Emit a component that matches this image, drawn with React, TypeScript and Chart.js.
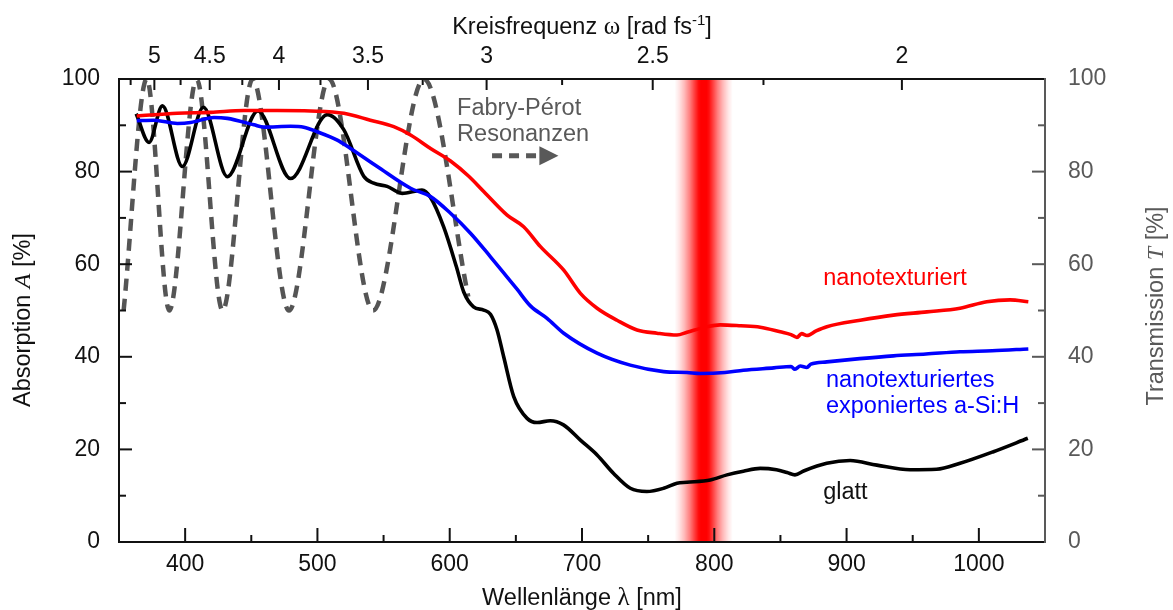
import { useEffect, useRef } from "react";
import { Chart, registerables } from "chart.js";

Chart.register(...registerables);

const W = 1173;
const H = 610;
const SANS = "'Liberation Sans', Arial, Helvetica, sans-serif";
const SERIF = "'Liberation Serif', 'Times New Roman', serif";

// smooth a-Si:H ("glatt"): wavelength [nm] / absorption [%]
const glattWl = [363, 372.7, 382.8, 397.9, 413.8, 431.9, 455, 479.7, 507.5, 520, 535, 542.6, 552.7, 564, 579, 585.5, 595.5, 605, 610.6, 618, 625.7, 630.8, 635.8, 640.8, 648.4, 658.5, 666, 676, 686, 698.8, 711.4, 723.9, 736.5, 749, 761.7, 771.8, 779.4, 797, 809.6, 822, 834.7, 847, 855, 861, 868, 885, 902.7, 922.9, 948, 968, 985.8, 1011, 1037];
const glattAbs = [92.5, 86.3, 94.2, 81.1, 93.9, 78.9, 93.1, 78.5, 92.3, 89.0, 79.0, 77.5, 76.8, 75.3, 76.0, 74.4, 68.0, 59.5, 54.0, 50.8, 50.1, 49.2, 45.8, 40.0, 31.4, 26.7, 25.8, 26.2, 25.3, 22.0, 18.8, 14.8, 11.6, 10.9, 11.6, 12.7, 12.9, 13.4, 14.5, 15.3, 15.9, 15.6, 15.0, 14.5, 15.4, 17.0, 17.6, 16.6, 15.6, 15.7, 17.0, 19.5, 22.4];

// nanotexturiert
const nanoWl = [363.4, 394, 419.3, 444.4, 469.6, 494.8, 520, 540, 557.7, 570.4, 585.5, 600.6, 614.4, 625.7, 643.4, 655.9, 668.6, 686.2, 698.8, 711.4, 726.5, 741.6, 756.7, 771.8, 779.4, 794.5, 804.5, 820, 834.7, 849.9, 858, 862.5, 866, 870, 877, 885.1, 910.3, 935.4, 960.7, 985.8, 1006, 1023.6, 1037.4];
const nanoAbs = [92.0, 92.6, 92.8, 93.2, 93.2, 93.1, 92.6, 91.1, 89.7, 87.9, 85.0, 82.3, 79.0, 75.7, 70.6, 68.1, 63.8, 58.7, 53.7, 50.5, 47.9, 45.8, 45.1, 44.7, 45.3, 46.5, 46.9, 46.7, 46.4, 45.4, 44.8, 44.2, 45.0, 44.6, 45.6, 46.5, 47.9, 49.0, 49.7, 50.5, 51.9, 52.3, 51.9];

// nanotexturiertes exponiertes a-Si:H
const expWl = [363.4, 376.4, 394.1, 404.2, 421.8, 431.9, 452, 459.5, 479.7, 489.7, 499.9, 515, 525, 545.2, 570.4, 585.5, 600.6, 615.7, 630.8, 650.9, 661, 673.6, 686.2, 711.4, 736.5, 761.7, 779.4, 789.4, 808, 822, 845, 858, 861, 865, 870, 873, 885.1, 910, 935.4, 960, 985.8, 1010, 1037.4];
const expAbs = [91.0, 91.1, 90.4, 90.6, 91.7, 91.5, 90.1, 89.6, 89.8, 89.6, 88.6, 86.8, 85.0, 81.1, 76.4, 74.6, 71.0, 66.7, 61.6, 54.6, 51.0, 48.3, 45.1, 40.8, 38.2, 36.8, 36.6, 36.4, 36.6, 37.1, 37.6, 37.9, 37.3, 38.0, 37.7, 38.4, 38.9, 39.6, 40.2, 40.6, 41.1, 41.3, 41.7];

// Fabry-Pérot transmission (right axis): extrema
const fpWl = [353.5, 371, 388, 408.7, 428.3, 451, 478.5, 508.8, 542, 580.5, 614];
const fpTrans = [50, 100, 50, 100, 50, 100, 50, 100, 50, 100, 53];

// axes
const wlTicks = [400, 500, 600, 700, 800, 900, 1000];
const wlMinor = [450, 550, 650, 750, 850, 950];
const pctTicks = [0, 20, 40, 60, 80, 100];
const pctMinor = [10, 30, 50, 70, 90];
const omegaTicks = [5, 4.5, 4, 3.5, 3, 2.5, 2];
const omegaLabels = ["5", "4.5", "4", "3.5", "3", "2.5", "2"];
const omegaMinor = [5.25, 4.75, 4.25, 3.75, 3.25, 2.75, 2.25];
const TWO_PI_C = 1883.65; // nm·rad/fs, λ = 2πc/ω

// laser line
const laserWl = 792;
const laserHalfWidth = 22;

const AREA = { left: 119, right: 1045, top: 79, bottom: 542 };

type Seg = { t: string; f: string; dy?: number };
function drawSegs(ctx: CanvasRenderingContext2D, segs: Seg[], x: number, y: number, align: "left" | "center") {
  let total = 0;
  for (const s of segs) {
    ctx.font = s.f;
    total += ctx.measureText(s.t).width;
  }
  let cx = align === "center" ? x - total / 2 : x;
  ctx.textAlign = "left";
  ctx.textBaseline = "alphabetic";
  for (const s of segs) {
    ctx.font = s.f;
    ctx.fillText(s.t, cx, y + (s.dy || 0));
    cx += ctx.measureText(s.t).width;
  }
}

function line(ctx: CanvasRenderingContext2D, x0: number, y0: number, x1: number, y1: number) {
  ctx.beginPath();
  ctx.moveTo(x0, y0);
  ctx.lineTo(x1, y1);
  ctx.stroke();
}

const decor = {
  id: "decor",
  beforeDatasetsDraw(chart: any) {
    const { ctx, chartArea: a, scales } = chart;
    const x = scales.x;
    const x0 = x.getPixelForValue(laserWl - laserHalfWidth);
    const x1 = x.getPixelForValue(laserWl + laserHalfWidth);
    const g = ctx.createLinearGradient(x0, 0, x1, 0);
    const stops: [number, number][] = [
      [0, 0], [0.08, 0.1], [0.17, 0.28], [0.26, 0.5], [0.34, 0.75], [0.41, 0.95], [0.45, 1],
      [0.55, 1], [0.59, 0.95], [0.66, 0.75], [0.74, 0.5], [0.83, 0.28], [0.92, 0.1], [1, 0],
    ];
    for (const [p, al] of stops) g.addColorStop(p, `rgba(255,0,0,${al})`);
    ctx.save();
    ctx.fillStyle = g;
    ctx.fillRect(x0, a.top, x1 - x0, a.bottom - a.top);
    ctx.restore();
  },
  afterDraw(chart: any) {
    const { ctx, chartArea: a, scales } = chart;
    const x = scales.x;
    const y = scales.y;
    const y2 = scales.y2;
    const X = (v: number) => x.getPixelForValue(v);
    const Y = (v: number) => y.getPixelForValue(v);
    ctx.save();
    ctx.lineCap = "butt";
    ctx.lineWidth = 2;
    // black axes
    ctx.strokeStyle = "#111";
    line(ctx, a.left, a.top - 1, a.left, a.bottom + 1);
    line(ctx, a.left - 1, a.bottom, a.right, a.bottom);
    line(ctx, a.left - 1, a.top, a.right, a.top);
    for (const v of wlTicks) line(ctx, X(v), a.bottom, X(v), a.bottom - 14);
    for (const v of wlMinor) line(ctx, X(v), a.bottom, X(v), a.bottom - 7);
    for (const v of pctTicks.slice(1, -1)) line(ctx, a.left, Y(v), a.left + 13, Y(v));
    for (const v of pctMinor) line(ctx, a.left, Y(v), a.left + 7, Y(v));
    for (const w of omegaTicks) line(ctx, X(TWO_PI_C / w), a.top, X(TWO_PI_C / w), a.top + 11);
    for (const w of omegaMinor) line(ctx, X(TWO_PI_C / w), a.top, X(TWO_PI_C / w), a.top + 6);
    // gray right axis
    ctx.strokeStyle = "#595959";
    line(ctx, a.right, a.top - 1, a.right, a.bottom + 1);
    for (const v of pctTicks.slice(1, -1)) line(ctx, a.right, y2.getPixelForValue(v), a.right - 13, y2.getPixelForValue(v));
    for (const v of pctMinor) line(ctx, a.right, y2.getPixelForValue(v), a.right - 7, y2.getPixelForValue(v));

    // axis titles
    const F = `23.5px ${SANS}`;
    const cx = (a.left + a.right) / 2;
    ctx.fillStyle = "#111";
    drawSegs(ctx, [
      { t: "Kreisfrequenz ", f: F },
      { t: "ω", f: `25px ${SERIF}` },
      { t: " [rad fs", f: F },
      { t: "-1", f: `15px ${SANS}`, dy: -9 },
      { t: "]", f: F },
    ], cx, 33.5, "center");
    drawSegs(ctx, [
      { t: "Wellenlänge ", f: F },
      { t: "λ", f: `25px ${SERIF}` },
      { t: " [nm]", f: F },
    ], cx, 605, "center");

    ctx.save();
    ctx.translate(30, 320);
    ctx.rotate(-Math.PI / 2);
    drawSegs(ctx, [
      { t: "Absorption ", f: F },
      { t: "A", f: `italic 24px ${SERIF}` },
      { t: " [%]", f: F },
    ], 0, 0, "center");
    ctx.restore();

    ctx.save();
    ctx.fillStyle = "#595959";
    ctx.translate(1162.5, 306);
    ctx.rotate(-Math.PI / 2);
    drawSegs(ctx, [
      { t: "Transmission ", f: F },
      { t: "T", f: `italic 24px ${SERIF}` },
      { t: " [%]", f: F },
    ], 0, 0, "center");
    ctx.restore();

    // annotations
    ctx.fillStyle = "#595959";
    drawSegs(ctx, [{ t: "Fabry-Pérot", f: F }], X(605.6), Y(92.2), "left");
    drawSegs(ctx, [{ t: "Resonanzen", f: F }], X(605.6), Y(86.6), "left");
    ctx.strokeStyle = "#595959";
    ctx.lineWidth = 5;
    ctx.setLineDash([10, 7]);
    line(ctx, X(632), Y(83.4), X(665.5), Y(83.4));
    ctx.setLineDash([]);
    ctx.beginPath();
    ctx.moveTo(X(667.8), Y(83.4) - 9.5);
    ctx.lineTo(X(682.2), Y(83.4));
    ctx.lineTo(X(667.8), Y(83.4) + 9.5);
    ctx.closePath();
    ctx.fill();

    ctx.fillStyle = "#ff0000";
    drawSegs(ctx, [{ t: "nanotexturiert", f: F }], X(882.3), Y(55.5), "left");
    ctx.fillStyle = "#0000ff";
    drawSegs(ctx, [{ t: "nanotexturiertes", f: F }], X(884.4), Y(33.4), "left");
    drawSegs(ctx, [{ t: "exponiertes a-Si:H", f: F }], X(884.4), Y(27.9), "left");
    ctx.fillStyle = "#111";
    drawSegs(ctx, [{ t: "glatt", f: F }], X(882.3), Y(9.2), "left");
    ctx.restore();
  },
};

const pts = (xs: number[], ys: number[]) => xs.map((v, i) => ({ x: v, y: ys[i] }));

export default function App() {
  const ref = useRef<HTMLCanvasElement>(null);
  useEffect(() => {
    const tickFont = { family: SANS, size: 23 };
    const plain = (v: any) => String(v);
    const chart = new Chart(ref.current as HTMLCanvasElement, {
      type: "line",
      data: {
        datasets: [
          { label: "nanotexturiert", data: pts(nanoWl, nanoAbs), borderColor: "#ff0000", borderWidth: 3.6, pointRadius: 0, cubicInterpolationMode: "monotone", yAxisID: "y" },
          { label: "nanotexturiertes exponiertes a-Si:H", data: pts(expWl, expAbs), borderColor: "#0000ff", borderWidth: 3.6, pointRadius: 0, cubicInterpolationMode: "monotone", yAxisID: "y" },
          { label: "glatt", data: pts(glattWl, glattAbs), borderColor: "#000000", borderWidth: 3.6, pointRadius: 0, cubicInterpolationMode: "monotone", yAxisID: "y" },
          { label: "Fabry-Pérot Resonanzen", data: pts(fpWl, fpTrans), borderColor: "#555555", borderWidth: 4.5, borderDash: [12, 8], pointRadius: 0, cubicInterpolationMode: "monotone", yAxisID: "y2" },
        ],
      } as any,
      options: {
        responsive: false,
        animation: false,
        events: [],
        layout: { padding: 0 },
        plugins: { legend: { display: false }, tooltip: { enabled: false }, title: { display: false } },
        scales: {
          x: {
            type: "linear",
            position: "bottom",
            min: 350,
            max: 1050,
            afterBuildTicks: (s: any) => { s.ticks = wlTicks.map((v) => ({ value: v })); },
            afterFit: (s: any) => { s.height = H - AREA.bottom; },
            grid: { display: false, drawTicks: false },
            border: { display: false },
            ticks: { font: tickFont, color: "#111", padding: 9, maxRotation: 0, autoSkip: false, callback: plain },
          },
          x2: {
            type: "linear",
            position: "top",
            min: 350,
            max: 1050,
            afterBuildTicks: (s: any) => { s.ticks = omegaTicks.map((w) => ({ value: TWO_PI_C / w })); },
            afterFit: (s: any) => { s.height = AREA.top; },
            grid: { display: false, drawTicks: false },
            border: { display: false },
            ticks: { font: tickFont, color: "#111", padding: 9, maxRotation: 0, autoSkip: false, callback: (_v: any, i: number) => omegaLabels[i] },
          },
          y: {
            type: "linear",
            position: "left",
            min: 0,
            max: 100,
            afterBuildTicks: (s: any) => { s.ticks = pctTicks.map((v) => ({ value: v })); },
            afterFit: (s: any) => { s.width = AREA.left; },
            grid: { display: false, drawTicks: false },
            border: { display: false },
            ticks: { font: tickFont, color: "#111", padding: 19, callback: plain },
          },
          y2: {
            type: "linear",
            position: "right",
            min: 0,
            max: 100,
            afterBuildTicks: (s: any) => { s.ticks = pctTicks.map((v) => ({ value: v })); },
            afterFit: (s: any) => { s.width = W - AREA.right; },
            grid: { display: false, drawTicks: false },
            border: { display: false },
            ticks: { font: tickFont, color: "#595959", padding: 23, callback: plain },
          },
        },
      } as any,
      plugins: [decor],
    });
    return () => chart.destroy();
  }, []);
  return (
    <div style={{ position: "fixed", left: 0, top: 0, width: W, height: H, background: "#fff" }}>
      <canvas ref={ref} width={W} height={H} style={{ display: "block", width: W, height: H }} />
    </div>
  );
}
